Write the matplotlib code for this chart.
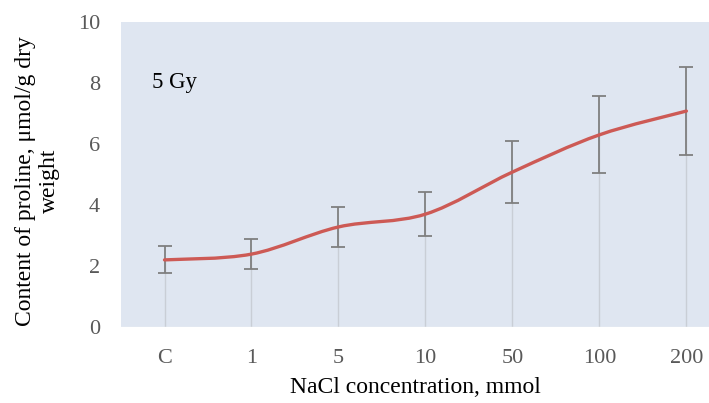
import matplotlib
matplotlib.use("Agg")
import matplotlib.pyplot as plt
from matplotlib.path import Path
from matplotlib.patches import PathPatch

# data
categories = ["C", "1", "5", "10", "50", "100", "200"]
proline = [2.20, 2.39, 3.28, 3.70, 5.08, 6.30, 7.08]
errors = [0.44, 0.49, 0.67, 0.72, 1.02, 1.26, 1.44]
yticks = [0, 2, 4, 6, 8, 10]


def smooth_path(xs, ys, t=1.0 / 6):
    # Excel-like smoothed line: cubic bezier through every point
    verts = [(xs[0], ys[0])]
    codes = [Path.MOVETO]
    n = len(xs)
    for i in range(n - 1):
        x0, y0 = (xs[i - 1], ys[i - 1]) if i > 0 else (xs[i], ys[i])
        x1, y1 = xs[i], ys[i]
        x2, y2 = xs[i + 1], ys[i + 1]
        x3, y3 = (xs[i + 2], ys[i + 2]) if i + 2 < n else (x2, y2)
        verts += [(x1 + (x2 - x0) * t, y1 + (y2 - y0) * t),
                  (x2 - (x3 - x1) * t, y2 - (y3 - y1) * t),
                  (x2, y2)]
        codes += [Path.CURVE4] * 3
    return Path(verts, codes)


plt.rcParams["font.family"] = ["Liberation Serif", "DejaVu Serif"]

fig = plt.figure(figsize=(7.09, 4.03), dpi=100)
ax = fig.add_axes([0.1707, 0.1886, 0.8293, 0.7568])
ax.set_facecolor("#dfe6f1")

xs = list(range(len(categories)))

# drop lines from the axis to each point
ax.vlines(xs, 0, proline, color="#c9ced6", lw=1.0, zorder=1)

ax.errorbar(xs, proline, yerr=errors, fmt="none", ecolor="#7f7f7f",
            elinewidth=1.3, capsize=5, capthick=1.3, zorder=2)

ax.add_patch(PathPatch(smooth_path(xs, proline), facecolor="none",
                       edgecolor="#cd5a55", lw=2.4, zorder=3,
                       capstyle="round"))

ax.set_xlim(-0.5, 6.26)
ax.set_ylim(0, 10)
ax.set_xticks(xs)
ax.set_xticklabels(categories)
ax.set_yticks(yticks)
ax.tick_params(length=0, labelsize=16, labelcolor="#595959")
ax.tick_params(axis="x", pad=16)
ax.tick_params(axis="y", pad=15)
for s in ax.spines.values():
    s.set_visible(False)
ax.axhline(0, color="#f2f2f2", lw=1.0, zorder=1)

ax.text(-0.14, 8.03, "5 Gy", fontsize=16.5, ha="left", va="center")

ax.set_xlabel("NaCl concentration, mmol", fontsize=17, labelpad=6)
ax.set_ylabel("Content of proline, \u03bcmol/g dry\nweight", fontsize=17,
              labelpad=13, linespacing=1.15)
ax.yaxis.label.set_y(0.48)

fig.savefig("out.png", dpi=100)
